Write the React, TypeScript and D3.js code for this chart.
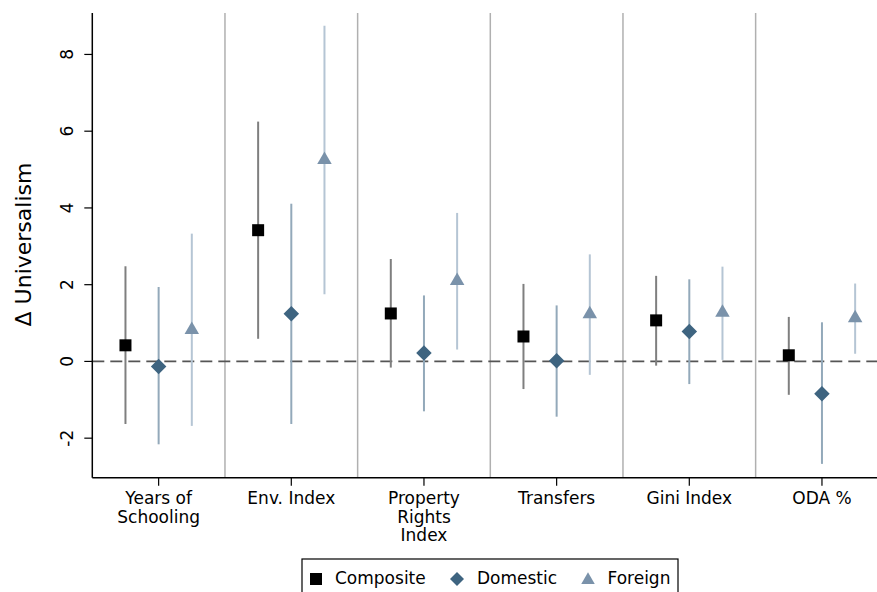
import React from "react";
import * as d3 from "d3";

const categories = ["Years of\nSchooling", "Env. Index", "Property\nRights\nIndex", "Transfers", "Gini Index", "ODA %"];
const seriesNames = ["Composite", "Domestic", "Foreign"];
const compositeEst = [0.42, 3.42, 1.25, 0.65, 1.07, 0.16];
const compositeLo = [-1.63, 0.59, -0.16, -0.72, -0.11, -0.87];
const compositeHi = [2.48, 6.25, 2.67, 2.02, 2.23, 1.16];
const domesticEst = [-0.13, 1.24, 0.22, 0.02, 0.78, -0.84];
const domesticLo = [-2.16, -1.63, -1.3, -1.44, -0.59, -2.67];
const domesticHi = [1.94, 4.11, 1.72, 1.46, 2.14, 1.02];
const foreignEst = [0.85, 5.28, 2.13, 1.26, 1.3, 1.16];
const foreignLo = [-1.68, 1.75, 0.31, -0.35, 0.04, 0.2];
const foreignHi = [3.33, 8.75, 3.87, 2.79, 2.47, 2.03];
const yTicks = [-2, 0, 2, 4, 6, 8];

const W = 877, H = 592;
const left = 92.3, right = 888.3, top = 13, bottom = 477.7;

function markerPath(kind: string, s: number): string {
  const p = d3.path();
  if (kind === "square") {
    p.rect(-s / 2, -s / 2, s, s);
  } else if (kind === "diamond") {
    const r = s / 2;
    p.moveTo(0, -r); p.lineTo(r, 0); p.lineTo(0, r); p.lineTo(-r, 0); p.closePath();
  } else {
    const w = s, h = s * 0.86;
    p.moveTo(0, -h * 0.58); p.lineTo(w / 2, h * 0.42); p.lineTo(-w / 2, h * 0.42); p.closePath();
  }
  return p.toString();
}

export default function App() {
  const x = d3.scaleLinear().domain([0.5, 6.5]).range([left, right]);
  const y = d3.scaleLinear().domain([-3.03, 9.08]).range([bottom, top]);
  const series = [
    { name: seriesNames[0], est: compositeEst, lo: compositeLo, hi: compositeHi, off: -0.25, mk: "#000000", ci: "#7f7f7f", kind: "square", size: 12, lsize: 12 },
    { name: seriesNames[1], est: domesticEst, lo: domesticLo, hi: domesticHi, off: 0, mk: "#3e6480", ci: "#93a9ba", kind: "diamond", size: 15.5, lsize: 14 },
    { name: seriesNames[2], est: foreignEst, lo: foreignLo, hi: foreignHi, off: 0.25, mk: "#7a92aa", ci: "#b5c5d4", kind: "triangle", size: 14.5, lsize: 13.5 },
  ];
  const font = "DejaVu Sans, sans-serif";
  const separators = d3.range(1, categories.length).map((i) => i + 0.5);
  const legendX = [316, 457, 588];
  const legendTextX = [335, 477, 607.5];
  return (
    <svg width={W} height={H} style={{ position: "absolute", left: 0, top: 0, background: "#fff" }} fontFamily={font}>
      <rect x={0} y={0} width={W} height={H} fill="#fff" />
      {separators.map((s, i) => (
        <line key={i} x1={x(s)} x2={x(s)} y1={top} y2={bottom} stroke="#b0b0b0" strokeWidth={1.5} />
      ))}
      <line x1={left} x2={W} y1={y(0)} y2={y(0)} stroke="#555" strokeWidth={1.8} strokeDasharray="12,6" />
      {series.map((s) =>
        s.est.map((v, i) => (
          <line key={s.name + i} x1={x(i + 1 + s.off)} x2={x(i + 1 + s.off)} y1={y(s.lo[i])} y2={y(s.hi[i])} stroke={s.ci} strokeWidth={2} />
        ))
      )}
      {series.map((s) =>
        s.est.map((v, i) => (
          <path key={"m" + s.name + i} d={markerPath(s.kind, s.size)} transform={`translate(${x(i + 1 + s.off)},${y(v)})`} fill={s.mk} />
        ))
      )}
      <line x1={left} x2={left} y1={top} y2={bottom} stroke="#000" strokeWidth={1.5} />
      <line x1={left} x2={W} y1={bottom} y2={bottom} stroke="#000" strokeWidth={1.5} />
      {yTicks.map((t) => (
        <g key={t}>
          <line x1={left - 8} x2={left} y1={y(t)} y2={y(t)} stroke="#000" strokeWidth={1.2} />
          <text transform={`translate(${73},${y(t)}) rotate(-90)`} textAnchor="middle" fontSize={17} fill="#000">{t}</text>
        </g>
      ))}
      {categories.map((c, i) => (
        <g key={c}>
          <line x1={x(i + 1)} x2={x(i + 1)} y1={bottom} y2={bottom + 8} stroke="#000" strokeWidth={1.2} />
          <text textAnchor="middle" fontSize={17} fill="#000">
            {c.split("\n").map((ln, j) => (
              <tspan key={j} x={x(i + 1)} y={504 + j * 18.5}>{ln}</tspan>
            ))}
          </text>
        </g>
      ))}
      <text transform={`translate(31,244.5) rotate(-90)`} textAnchor="middle" fontSize={22} fill="#000">Δ Universalism</text>
      <rect x={302} y={559} width={376} height={40} fill="#fff" stroke="#000" strokeWidth={1.2} />
      {series.map((s, i) => (
        <g key={"lg" + s.name}>
          <path d={markerPath(s.kind, s.lsize)} transform={`translate(${legendX[i]},${579})`} fill={s.mk} />
          <text x={legendTextX[i]} y={583.5} fontSize={17} fill="#000">{s.name}</text>
        </g>
      ))}
    </svg>
  );
}
